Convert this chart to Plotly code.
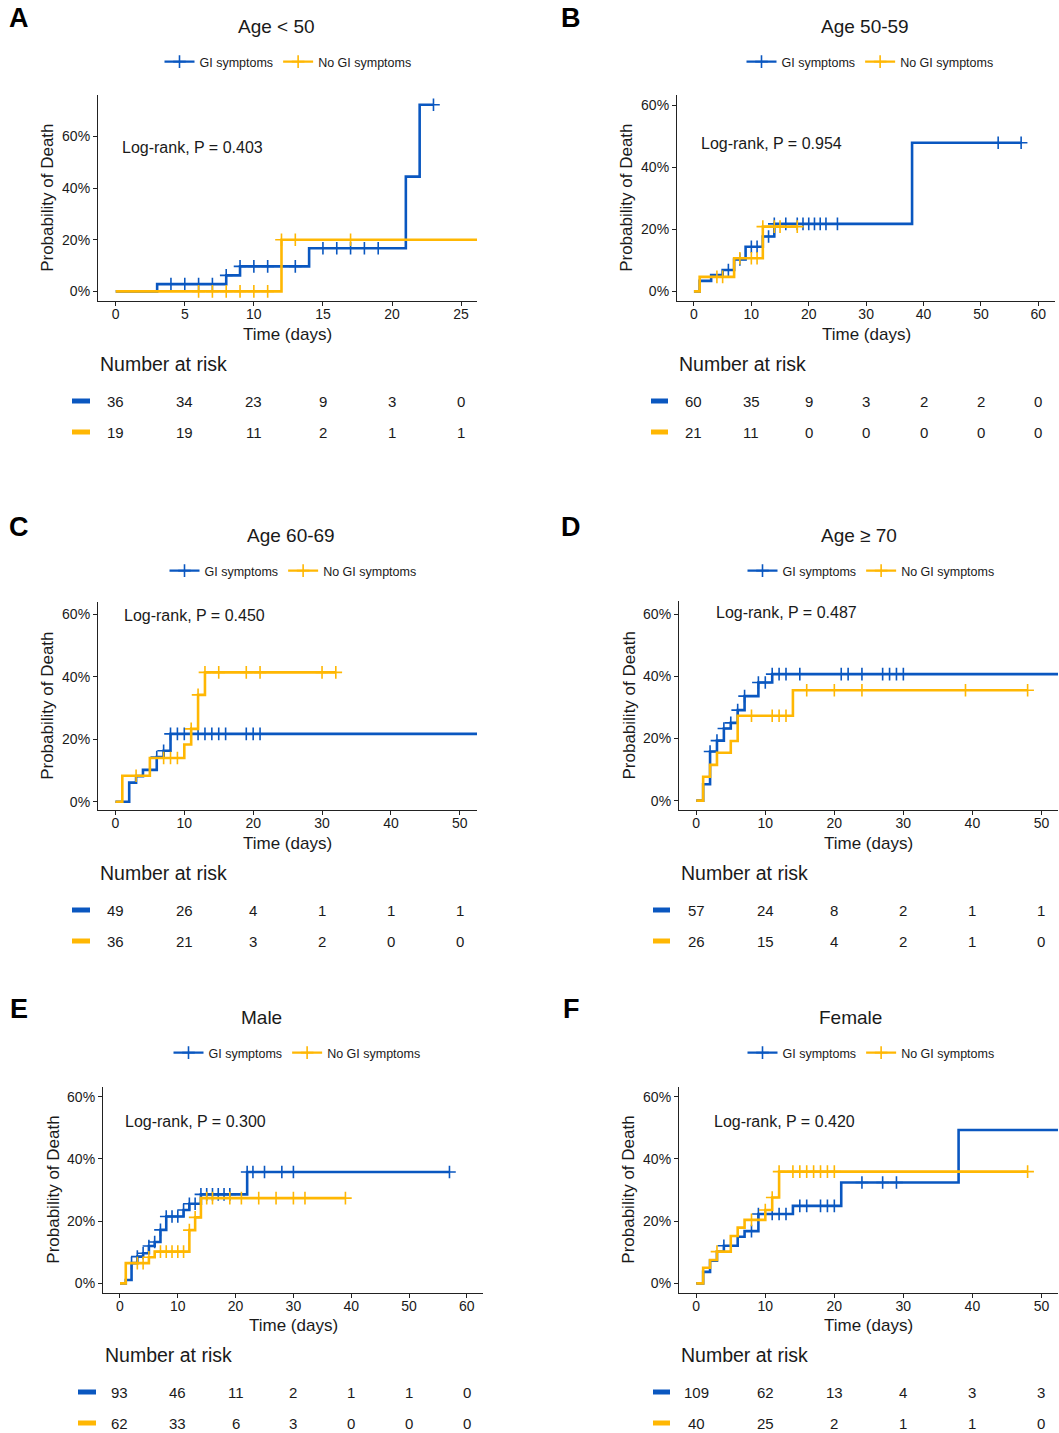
import plotly.graph_objects as go

# ---------------- DATA ----------------
BLUE = "#0A57C0"
GOLD = "#FFB703"
GROUPS = ["GI symptoms", "No GI symptoms"]

# Panel A: Age < 50
A_GI_TIME = [0, 3, 8, 9, 14, 21, 22]
A_GI_PROB = [0, 2.8, 6.2, 9.7, 16.7, 44.4, 72.2]
A_GI_CENS = [4, 5, 6, 7, 8, 9, 10, 11, 13, 15, 16, 17, 18, 19, 23]
A_GI_END = 23
A_NO_TIME = [0, 12]
A_NO_PROB = [0, 20.0]
A_NO_CENS = [6, 7, 8, 9, 10, 11, 12, 13, 17]
A_NO_END = 26.2
A_XTICKS = [0, 5, 10, 15, 20, 25]
A_RISK_GI = [36, 34, 23, 9, 3, 0]
A_RISK_NO = [19, 19, 11, 2, 1, 1]

# Panel B: Age 50-59
B_GI_TIME = [0, 1, 3, 5, 7, 9, 12, 14, 38]
B_GI_PROB = [0, 3.4, 5.3, 6.9, 10.3, 14.4, 17.7, 21.8, 48.0]
B_GI_CENS = [6, 8, 10, 11, 13, 14, 16, 18, 19, 20, 21, 22, 23, 25, 53, 57]
B_GI_END = 57
B_NO_TIME = [0, 1, 7, 12]
B_NO_PROB = [0, 4.7, 10.7, 20.9]
B_NO_CENS = [4, 5, 8, 10, 11, 12, 14, 15, 18]
B_NO_END = 18
B_XTICKS = [0, 10, 20, 30, 40, 50, 60]
B_RISK_GI = [60, 35, 9, 3, 2, 2, 0]
B_RISK_NO = [21, 11, 0, 0, 0, 0, 0]

# Panel C: Age 60-69
C_GI_TIME = [0, 2, 3, 4, 6, 7, 8]
C_GI_PROB = [0, 6.1, 8.2, 10.2, 14.3, 16.3, 21.7]
C_GI_CENS = [5, 6, 7, 8, 9, 10, 11, 12, 13, 14, 15, 16, 19, 20, 21]
C_GI_END = 53
C_NO_TIME = [0, 1, 5, 10, 11, 12, 13]
C_NO_PROB = [0, 8.3, 14.0, 18.3, 23.3, 34.2, 41.4]
C_NO_CENS = [3, 7, 8, 9, 11, 12, 13, 15, 19, 21, 30, 32]
C_NO_END = 32
C_XTICKS = [0, 10, 20, 30, 40, 50]
C_RISK_GI = [49, 26, 4, 1, 1, 1]
C_RISK_NO = [36, 21, 3, 2, 0, 0]

# Panel D: Age >= 70
D_GI_TIME = [0, 1, 2, 3, 4, 5, 6, 7, 9, 11]
D_GI_PROB = [0, 5.3, 15.8, 19.3, 23.2, 25.0, 29.1, 33.6, 38.0, 40.7]
D_GI_CENS = [2, 3, 4, 5, 6, 7, 9, 10, 11, 12, 13, 15, 21, 22, 24, 27, 28, 29, 30]
D_GI_END = 53
D_NO_TIME = [0, 1, 2, 3, 5, 6, 14]
D_NO_PROB = [0, 7.7, 11.5, 15.4, 19.2, 27.3, 35.5]
D_NO_CENS = [8, 11, 12, 13, 16, 20, 24, 39, 48]
D_NO_END = 48
D_XTICKS = [0, 10, 20, 30, 40, 50]
D_RISK_GI = [57, 24, 8, 2, 1, 1]
D_RISK_NO = [26, 15, 4, 2, 1, 0]

# Panel E: Male
E_GI_TIME = [0, 1, 2, 3, 4, 5, 6, 7, 8, 11, 12, 14, 22]
E_GI_PROB = [0, 1.1, 6.5, 8.6, 9.7, 12.0, 13.3, 17.2, 21.5, 23.6, 25.6, 28.6, 35.8]
E_GI_CENS = [2, 3, 4, 5, 6, 7, 8, 9, 10, 11, 12, 13, 14, 15, 16, 17, 18, 19,
             22, 23, 25, 28, 30, 57]
E_GI_END = 57
E_NO_TIME = [0, 1, 5, 6, 12, 13, 14]
E_NO_PROB = [0, 6.5, 8.4, 10.2, 17.1, 21.2, 27.4]
E_NO_CENS = [3, 4, 5, 7, 8, 9, 10, 11, 12, 13, 15, 16, 19, 21, 24, 27, 30, 32, 39]
E_NO_END = 39
E_XTICKS = [0, 10, 20, 30, 40, 50, 60]
E_RISK_GI = [93, 46, 11, 2, 1, 1, 0]
E_RISK_NO = [62, 33, 6, 3, 0, 0, 0]

# Panel F: Female
F_GI_TIME = [0, 1, 2, 3, 4, 6, 7, 9, 14, 21, 38]
F_GI_PROB = [0, 3.7, 7.3, 10.2, 12.1, 15.0, 16.8, 22.3, 24.9, 32.4, 49.3]
F_GI_CENS = [4, 5, 8, 9, 11, 12, 13, 15, 16, 18, 19, 20, 24, 27, 29]
F_GI_END = 53
F_NO_TIME = [0, 1, 2, 3, 5, 6, 7, 10, 11, 12]
F_NO_PROB = [0, 5.0, 7.5, 10.2, 15.2, 17.9, 20.4, 23.6, 27.6, 35.9]
F_NO_CENS = [3, 8, 10, 11, 12, 14, 15, 16, 17, 18, 19, 20, 48]
F_NO_END = 48
F_XTICKS = [0, 10, 20, 30, 40, 50]
F_RISK_GI = [109, 62, 13, 4, 3, 3]
F_RISK_NO = [40, 25, 2, 1, 1, 0]

Y_TICKS = [0, 20, 40, 60]
Y_TICKTEXT = ["0%", "20%", "40%", "60%"]

# ---------------- LAYOUT (pixel geometry) ----------------
W, H = 1059, 1433
FONT = "Liberation Sans, Arial, sans-serif"
TXT = "#1a1a1a"


def fx(px):
    return px / W


def fy(py):
    return 1 - py / H


panels = [
    dict(letter="A", title="Age < 50", p="0.403",
         gi=(A_GI_TIME, A_GI_PROB, A_GI_CENS, A_GI_END),
         no=(A_NO_TIME, A_NO_PROB, A_NO_CENS, A_NO_END),
         xt=A_XTICKS, rg=A_RISK_GI, rn=A_RISK_NO,
         box=(98, 477, 95, 300.7), xr=[-1.28, 26.15], yr=[-3.6, 76],
         base=0, letx=19, tx=277, lgx=288, lrx=120, lry=147, ytx=48, barx=(72, 90)),
    dict(letter="B", title="Age 50-59", p="0.954",
         gi=(B_GI_TIME, B_GI_PROB, B_GI_CENS, B_GI_END),
         no=(B_NO_TIME, B_NO_PROB, B_NO_CENS, B_NO_END),
         xt=B_XTICKS, rg=B_RISK_GI, rn=B_RISK_NO,
         box=(677, 1055, 95, 300.7), xr=[-2.95, 62.9], yr=[-3.0, 63.4],
         base=0, letx=571, tx=865, lgx=870, lrx=699, lry=143, ytx=627, barx=(651, 668)),
    dict(letter="C", title="Age 60-69", p="0.450",
         gi=(C_GI_TIME, C_GI_PROB, C_GI_CENS, C_GI_END),
         no=(C_NO_TIME, C_NO_PROB, C_NO_CENS, C_NO_END),
         xt=C_XTICKS, rg=C_RISK_GI, rn=C_RISK_NO,
         box=(98, 477, 601.7, 810), xr=[-2.53, 52.5], yr=[-2.65, 64.0],
         base=509, letx=19, tx=291, lgx=293, lrx=122, lry=615, ytx=48, barx=(72, 90)),
    dict(letter="D", title="Age \u2265 70", p="0.487",
         gi=(D_GI_TIME, D_GI_PROB, D_GI_CENS, D_GI_END),
         no=(D_NO_TIME, D_NO_PROB, D_NO_CENS, D_NO_END),
         xt=D_XTICKS, rg=D_RISK_GI, rn=D_RISK_NO,
         box=(679, 1058, 601, 810), xr=[-2.5, 52.4], yr=[-3.0, 64.2],
         base=509, letx=571, tx=859, lgx=871, lrx=714, lry=612, ytx=629, barx=(653, 670)),
    dict(letter="E", title="Male", p="0.300",
         gi=(E_GI_TIME, E_GI_PROB, E_GI_CENS, E_GI_END),
         no=(E_NO_TIME, E_NO_PROB, E_NO_CENS, E_NO_END),
         xt=E_XTICKS, rg=E_RISK_GI, rn=E_RISK_NO,
         box=(103, 483, 1086.7, 1292.7), xr=[-2.94, 62.8], yr=[-3.0, 63.2],
         base=991, letx=19, tx=261, lgx=297, lrx=123, lry=1121, ytx=54, barx=(78, 96)),
    dict(letter="F", title="Female", p="0.420",
         gi=(F_GI_TIME, F_GI_PROB, F_GI_CENS, F_GI_END),
         no=(F_NO_TIME, F_NO_PROB, F_NO_CENS, F_NO_END),
         xt=F_XTICKS, rg=F_RISK_GI, rn=F_RISK_NO,
         box=(679, 1058, 1086.7, 1292.7), xr=[-2.5, 52.4], yr=[-3.0, 63.2],
         base=991, letx=571, tx=850, lgx=871, lrx=712, lry=1121, ytx=629, barx=(653, 670)),
]


def step_value(times, probs, t):
    v = probs[0]
    for ti, pi in zip(times, probs):
        if t >= ti:
            v = pi
    return v


def note(text, x, y, size, xanchor="center", xref="paper", **kw):
    return dict(text=text, x=x, y=y, xref=xref, yref="paper", xanchor=xanchor,
                yanchor="middle", showarrow=False,
                font=dict(size=size, color=kw.pop("color", TXT), family=FONT), **kw)


fig = go.Figure()
annotations = []
shapes = []
layout = {}

for i, P in enumerate(panels, start=1):
    xa = "x" if i == 1 else f"x{i}"
    ya = "y" if i == 1 else f"y{i}"
    lg = "legend" if i == 1 else f"legend{i}"
    l, r, t, b = P["box"]
    base = P["base"]

    for (times, probs, cens, end), col, name in ((P["gi"], BLUE, GROUPS[0]),
                                                 (P["no"], GOLD, GROUPS[1])):
        xs = list(times) + [end]
        ys = list(probs) + [probs[-1]]
        fig.add_trace(go.Scatter(x=xs, y=ys, mode="lines", line=dict(color=col, width=2.6, shape="hv"),
                                 xaxis=xa, yaxis=ya, showlegend=False, hoverinfo="skip"))
        fig.add_trace(go.Scatter(x=cens, y=[step_value(times, probs, c) for c in cens], mode="markers",
                                 marker=dict(symbol="cross-thin", size=9, line=dict(color=col, width=1.6)),
                                 xaxis=xa, yaxis=ya, showlegend=False, hoverinfo="skip"))
        fig.add_trace(go.Scatter(x=[None], y=[None], mode="lines+markers", name=name,
                                 line=dict(color=col, width=2.4),
                                 marker=dict(symbol="cross-thin", size=9, line=dict(color=col, width=1.6)),
                                 xaxis=xa, yaxis=ya, legend=lg, showlegend=True))

    axis_common = dict(showline=True, linecolor="#222", linewidth=1.2, ticks="outside", ticklen=4,
                       tickcolor="#222", tickwidth=1, showgrid=False, zeroline=False,
                       tickfont=dict(size=14, color=TXT, family=FONT))
    layout["xaxis" if i == 1 else f"xaxis{i}"] = dict(
        domain=[fx(l), fx(r)], anchor=ya, range=P["xr"], tickvals=P["xt"],
        ticklabelstandoff=-4, **axis_common)
    layout["yaxis" if i == 1 else f"yaxis{i}"] = dict(
        domain=[fy(b), fy(t)], anchor=xa, range=P["yr"], tickvals=Y_TICKS, ticktext=Y_TICKTEXT,
        **axis_common)
    layout[lg] = dict(orientation="h", x=fx(P["lgx"]), xanchor="center", y=fy(62 + base),
                      yanchor="middle", font=dict(size=12.5, color=TXT, family=FONT),
                      bgcolor="rgba(0,0,0,0)", itemwidth=30, tracegroupgap=0)

    annotations.append(note(f"<b>{P['letter']}</b>", fx(P["letx"]), fy(18 + base), 27, color="#000"))
    annotations.append(note(P["title"], fx(P["tx"]), fy(26 + base), 19))
    annotations.append(note(f"Log-rank, P = {P['p']}", fx(P["lrx"]), fy(P["lry"]), 16, xanchor="left"))
    annotations.append(note("Time (days)", fx((l + r) / 2), fy(334 + base), 17))
    annotations.append(note("Probability of Death", fx(P["ytx"]), fy((t + b) / 2), 17, textangle=-90))
    annotations.append(note("Number at risk", fx(l), fy(364 + base), 19.5, xanchor="left"))
    for row_vals, col, ry in ((P["rg"], BLUE, 401 + base), (P["rn"], GOLD, 432 + base)):
        for xv, n in zip(P["xt"], row_vals):
            annotations.append(note(str(n), xv, fy(ry), 15, xref=xa))
        shapes.append(dict(type="rect", xref="paper", yref="paper",
                           x0=fx(P["barx"][0]), x1=fx(P["barx"][1]),
                           y0=fy(ry + 2.5), y1=fy(ry - 2.5), fillcolor=col, line=dict(width=0)))

fig.update_layout(width=W, height=H, margin=dict(l=0, r=0, t=0, b=0),
                  paper_bgcolor="white", plot_bgcolor="white",
                  font=dict(family=FONT, color=TXT),
                  annotations=annotations, shapes=shapes, **layout)

fig.write_html("out.html", config={"displayModeBar": False},
               post_script="document.body.style.margin='0';")
